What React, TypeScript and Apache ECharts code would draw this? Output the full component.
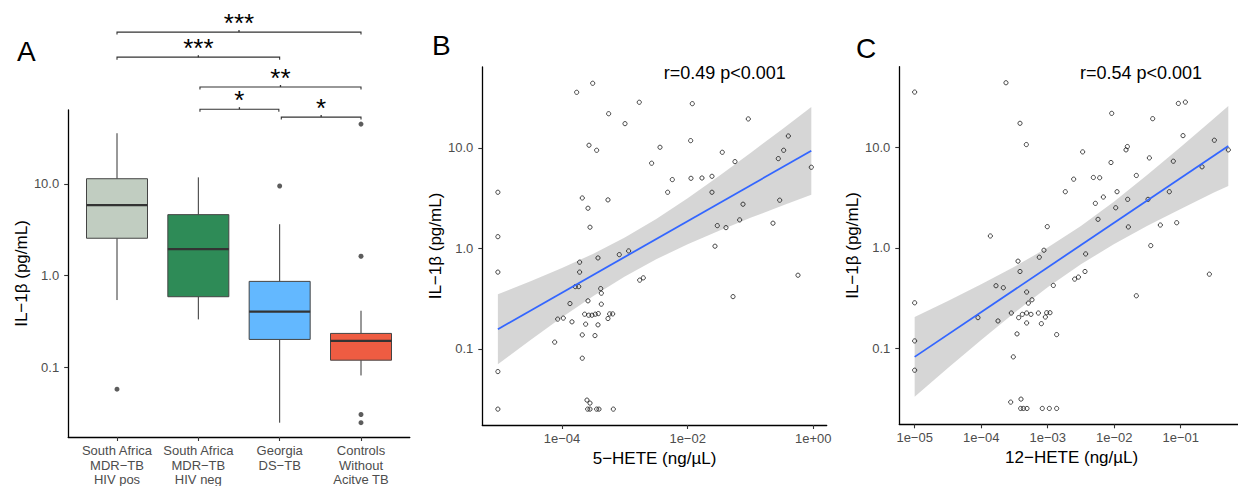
import React, { useEffect, useRef } from "react";
import * as echarts from "echarts";

const FONT = "'Liberation Sans', Arial, Helvetica, sans-serif";

// ---------- Panel A : IL-1β (pg/mL) by group ----------
const groupLabels = [
  "South Africa\nMDR−TB\nHIV pos",
  "South Africa\nMDR−TB\nHIV neg",
  "Georgia\nDS−TB",
  "Controls\nWithout\nAcitve TB",
];
const boxLower = [0.543, 0.334, 0.025, 0.0818];
const boxQ1 = [2.56, 0.59, 0.202, 0.12];
const boxMedian = [5.87, 1.95, 0.405, 0.195];
const boxQ3 = [11.4, 4.63, 0.867, 0.235];
const boxUpper = [35.7, 11.8, 3.64, 0.415];
const boxColors = ["#C1CDC1", "#2E8B57", "#63B8FF", "#EE5C42"];
const outlierGroup = [0, 2, 3, 3, 3, 3];
const outlierValue = [0.058, 9.5, 44.9, 1.63, 0.0307, 0.025];

// significance brackets: from group, to group, height (pg/mL), label
const bracketFrom = [0, 0, 1.02, 1.02, 2.02];
const bracketTo = [3, 2, 3, 1.99, 3];
const bracketHeight = [452, 241, 114, 65.3, 53.5];
const bracketLabel = ["***", "***", "**", "*", "*"];

// ---------- Panel B : 5-HETE vs IL-1β (log10 ng/µL, log10 pg/mL) ----------
const hete5Points: [number, number][] = [
  [-5.02, 0.559], [-5.02, 0.117], [-3.766, 1.554], [-3.511, 1.644], [-3.257, 1.341],
  [-2.997, 1.242], [-2.77, 1.455], [-1.926, 1.441], [-1.035, 1.289], [-3.57, 1.027],
  [-3.448, 0.977], [-2.44, 1.007], [-1.952, 1.073], [-2.573, 0.848], [-2.244, 0.685],
  [-1.947, 0.698], [-1.772, 0.701], [-1.613, 0.718], [-1.449, 0.957], [-1.247, 0.864],
  [-0.557, 0.894], [-0.472, 0.977], [-0.398, 1.119], [-0.032, 0.808], [-3.677, 0.502],
  [-3.586, 0.4], [-3.554, 0.211], [-3.268, 0.483], [-2.318, 0.559], [-1.613, 0.559],
  [-1.119, 0.44], [-0.535, 0.48], [-1.528, 0.227], [-1.39, 0.207], [-1.172, 0.284],
  [-0.642, 0.251], [-1.565, 0.022], [-3.088, -0.062], [-2.939, -0.025], [-3.427, -0.095],
  [-3.719, -0.137], [-5.02, -0.236], [-3.719, -0.236], [-2.763, -0.316], [-2.706, -0.293],
  [-0.244, -0.267], [-3.788, -0.38], [-3.734, -0.38], [-3.384, -0.4], [-3.374, -0.446],
  [-1.278, -0.48], [-3.586, -0.522], [-3.873, -0.549], [-3.374, -0.555], [-3.639, -0.655],
  [-3.575, -0.665], [-3.523, -0.665], [-3.47, -0.655], [-3.422, -0.649], [-3.241, -0.652],
  [-3.193, -0.652], [-3.268, -0.698], [-4.068, -0.704], [-3.979, -0.694], [-3.841, -0.731],
  [-3.623, -0.754], [-3.427, -0.761], [-3.677, -0.861], [-3.475, -0.868], [-4.116, -0.933],
  [-3.677, -1.093], [-5.02, -1.226], [-5.02, -1.6], [-3.602, -1.51], [-3.554, -1.54],
  [-3.591, -1.6], [-3.554, -1.6], [-3.448, -1.6], [-3.411, -1.6], [-3.183, -1.6],
];
const fitB: [number, number][] = [[-5.02, -0.804], [-0.032, 0.972]];
const bandBX = [-5.02, -4.5, -4, -3.5, -3, -2.5, -2, -1.5, -1, -0.5, -0.032];
const bandBLo = [-1.152, -0.911, -0.686, -0.473, -0.279, -0.108, 0.042, 0.177, 0.304, 0.425, 0.535];
const bandBHi = [-0.456, -0.327, -0.196, -0.053, 0.109, 0.294, 0.5, 0.721, 0.95, 1.185, 1.409];

// ---------- Panel C : 12-HETE vs IL-1β ----------
const hete12Points: [number, number][] = [
  [-5.0, 1.553], [-3.627, 1.646], [-3.416, 1.242], [-3.321, 1.03], [-2.037, 1.341],
  [-1.035, 1.44], [-0.93, 1.453], [-1.421, 1.288], [-0.965, 1.119], [-0.494, 1.073],
  [-0.284, 0.977], [-2.474, 0.957], [-1.822, 0.977], [-1.802, 1.01], [-1.471, 0.897],
  [-1.111, 0.864], [-0.679, 0.808], [-2.048, 0.851], [-2.609, 0.685], [-2.313, 0.702],
  [-2.218, 0.699], [-1.667, 0.722], [-2.735, 0.56], [-1.957, 0.56], [-1.171, 0.56],
  [-2.163, 0.507], [-2.283, 0.444], [-1.797, 0.484], [-1.491, 0.484], [-1.977, 0.4],
  [-2.243, 0.285], [-1.787, 0.209], [-1.306, 0.228], [-1.06, 0.251], [-3.006, 0.212],
  [-3.862, 0.119], [-1.45, 0.023], [-3.056, -0.023], [-2.429, -0.06], [-3.126, -0.093],
  [-3.446, -0.132], [-3.416, -0.235], [-2.439, -0.235], [-2.594, -0.311], [-2.538, -0.291],
  [-0.569, -0.262], [-3.777, -0.377], [-3.667, -0.397], [-2.915, -0.374], [-1.667, -0.477],
  [-3.316, -0.44], [-5.0, -0.547], [-3.236, -0.517], [-3.291, -0.55], [-3.547, -0.649],
  [-3.381, -0.662], [-3.316, -0.649], [-3.251, -0.662], [-3.14, -0.649], [-3.015, -0.646],
  [-2.965, -0.646], [-3.436, -0.695], [-3.035, -0.689], [-4.048, -0.695], [-3.747, -0.728],
  [-3.316, -0.748], [-3.095, -0.755], [-3.461, -0.857], [-2.865, -0.864], [-5.0, -0.927],
  [-3.517, -1.086], [-5.0, -1.219], [-3.556, -1.537], [-3.401, -1.507], [-3.406, -1.6],
  [-3.366, -1.6], [-3.311, -1.6], [-3.081, -1.6], [-2.975, -1.6], [-2.865, -1.6],
];
const fitC: [number, number][] = [[-5.0, -1.086], [-0.284, 1.016]];
const bandCX = [-5, -4.5, -4, -3.5, -3, -2.5, -2, -1.5, -1, -0.5, -0.284];
const bandCLo = [-1.484, -1.197, -0.917, -0.646, -0.391, -0.163, 0.039, 0.22, 0.389, 0.551, 0.618];
const bandCHi = [-0.688, -0.529, -0.363, -0.188, 0.003, 0.219, 0.463, 0.728, 1.005, 1.289, 1.414];

// ---------- axis ticks ----------
const yTickValues = [-1, 0, 1];
const yTickLabels = ["0.1", "1.0", "10.0"];
const xTickValuesB = [-4, -2, 0];
const xTickLabelsB = ["1e−04", "1e−02", "1e+00"];
const xTickValuesC = [-5, -4, -3, -2, -1];
const xTickLabelsC = ["1e−05", "1e−04", "1e−03", "1e−02", "1e−01"];
const corrTexts = ["r=0.49 p<0.001", "r=0.54 p<0.001"];

const Y_MIN = -1.758;
const Y_MAX = 1.806;

const tickLabelStyle = { fontFamily: FONT, fontSize: 13, color: "#4D4D4D" };
const axisLine = { show: true, onZero: false, lineStyle: { color: "#000", width: 1.3 } };

function yAxisCfg(gridIndex: number) {
  return {
    type: "value",
    gridIndex,
    min: Y_MIN,
    max: Y_MAX,
    name: "IL−1β (pg/mL)",
    nameLocation: "middle",
    nameGap: 38,
    nameRotate: 90,
    nameTextStyle: { fontFamily: FONT, fontSize: 17, color: "#000" },
    axisLine,
    axisTick: { show: true, length: 4, customValues: yTickValues, lineStyle: { color: "#333", width: 1.1 } },
    axisLabel: {
      ...tickLabelStyle,
      margin: 9,
      customValues: yTickValues,
      formatter: (v: number) => yTickLabels[yTickValues.indexOf(Math.round(v))] ?? "",
    },
    splitLine: { show: false },
  };
}

function xAxisCfg(gridIndex: number, min: number, max: number, vals: number[], labels: string[], name: string) {
  return {
    type: "value",
    gridIndex,
    min,
    max,
    name,
    nameLocation: "middle",
    nameGap: 23,
    nameTextStyle: { fontFamily: FONT, fontSize: 17, color: "#000" },
    axisLine,
    axisTick: { show: true, length: 4, customValues: vals, lineStyle: { color: "#333", width: 1.1 } },
    axisLabel: {
      ...tickLabelStyle,
      margin: 7,
      customValues: vals,
      formatter: (v: number) => labels[vals.indexOf(Math.round(v))] ?? "",
    },
    splitLine: { show: false },
  };
}

function bandSeries(axis: number, xs: number[], lo: number[], hi: number[]) {
  return {
    type: "custom",
    xAxisIndex: axis,
    yAxisIndex: axis,
    silent: true,
    clip: true,
    data: [[xs[0], lo[0]]],
    renderItem: (_p: any, api: any) => {
      const pts: number[][] = [];
      for (let i = 0; i < xs.length; i++) pts.push(api.coord([xs[i], hi[i]]));
      for (let i = xs.length - 1; i >= 0; i--) pts.push(api.coord([xs[i], lo[i]]));
      return { type: "polygon", shape: { points: pts }, style: { fill: "rgba(153,153,153,0.4)" } };
    },
  };
}

function scatterSeries(axis: number, pts: [number, number][]) {
  return {
    type: "scatter",
    xAxisIndex: axis,
    yAxisIndex: axis,
    data: pts,
    symbol: "circle",
    symbolSize: 4.2,
    itemStyle: { color: "rgba(255,255,255,0)", borderColor: "#000", borderWidth: 0.9 },
    silent: true,
  };
}

function fitSeries(axis: number, pts: [number, number][]) {
  return {
    type: "line",
    xAxisIndex: axis,
    yAxisIndex: axis,
    data: pts,
    symbol: "none",
    lineStyle: { color: "#3366FF", width: 1.8 },
    silent: true,
  };
}

const log = Math.log10;

const boxData = groupLabels.map((_, i) => [
  i,
  log(boxLower[i]),
  log(boxQ1[i]),
  log(boxMedian[i]),
  log(boxQ3[i]),
  log(boxUpper[i]),
]);

const option: any = {
  animation: false,
  backgroundColor: "#fff",
  grid: [
    { left: 68.2, top: 110, width: 341.6, height: 327, outerBoundsMode: "none" },
    { left: 482.3, top: 67, width: 344.4, height: 358, outerBoundsMode: "none" },
    { left: 899.3, top: 66.7, width: 344.7, height: 357.6, outerBoundsMode: "none" },
  ],
  xAxis: [
    {
      type: "value",
      gridIndex: 0,
      min: -0.6,
      max: 3.6,
      axisLine,
      axisTick: { show: true, length: 4, customValues: [0, 1, 2, 3], lineStyle: { color: "#333", width: 1.1 } },
      axisLabel: {
        ...tickLabelStyle,
        lineHeight: 14.7,
        margin: 6,
        customValues: [0, 1, 2, 3],
        formatter: (v: number) => groupLabels[Math.round(v)] ?? "",
      },
      splitLine: { show: false },
    },
    xAxisCfg(1, -5.268, 0.213, xTickValuesB, xTickLabelsB, "5−HETE (ng/µL)"),
    xAxisCfg(2, -5.231, -0.048, xTickValuesC, xTickLabelsC, "12−HETE (ng/µL)"),
  ],
  yAxis: [yAxisCfg(0), yAxisCfg(1), yAxisCfg(2)],
  series: [
    {
      type: "custom",
      xAxisIndex: 0,
      yAxisIndex: 0,
      data: boxData,
      silent: true,
      renderItem: (params: any, api: any) => {
        const x = api.value(0);
        const lo = api.value(1), q1 = api.value(2), med = api.value(3), q3 = api.value(4), hi = api.value(5);
        const w = 0.375;
        const tl = api.coord([x - w, q3]);
        const br = api.coord([x + w, q1]);
        const pHi = api.coord([x, hi]);
        const pQ3 = api.coord([x, q3]);
        const pQ1 = api.coord([x, q1]);
        const pLo = api.coord([x, lo]);
        const m1 = api.coord([x - w, med]);
        const m2 = api.coord([x + w, med]);
        const st = { stroke: "#333", lineWidth: 1 };
        return {
          type: "group",
          children: [
            { type: "line", shape: { x1: pHi[0], y1: pHi[1], x2: pQ3[0], y2: pQ3[1] }, style: st },
            { type: "line", shape: { x1: pQ1[0], y1: pQ1[1], x2: pLo[0], y2: pLo[1] }, style: st },
            {
              type: "rect",
              shape: { x: tl[0], y: tl[1], width: br[0] - tl[0], height: br[1] - tl[1] },
              style: { fill: boxColors[params.dataIndex], stroke: "#444", lineWidth: 1 },
            },
            { type: "line", shape: { x1: m1[0], y1: m1[1], x2: m2[0], y2: m2[1] }, style: { stroke: "#333", lineWidth: 2.2 } },
          ],
        };
      },
    },
    {
      type: "scatter",
      xAxisIndex: 0,
      yAxisIndex: 0,
      data: outlierGroup.map((g, i) => [g, log(outlierValue[i])]),
      symbolSize: 5,
      itemStyle: { color: "#333" },
      silent: true,
    },
    {
      type: "custom",
      xAxisIndex: 0,
      yAxisIndex: 0,
      clip: false,
      silent: true,
      data: bracketFrom.map((f, i) => [f, bracketTo[i], log(bracketHeight[i])]),
      renderItem: (params: any, api: any) => {
        const p1 = api.coord([api.value(0), api.value(2)]);
        const p2 = api.coord([api.value(1), api.value(2)]);
        const cx = (p1[0] + p2[0]) / 2;
        const y = p1[1];
        return {
          type: "group",
          children: [
            {
              type: "polyline",
              shape: { points: [[p1[0], y + 2.5], [p1[0], y], [p2[0], y], [p2[0], y + 2.5]] },
              style: { stroke: "#333", lineWidth: 1.1, fill: "none" },
            },
            { type: "line", shape: { x1: cx, y1: y, x2: cx, y2: y - 2 }, style: { stroke: "#333", lineWidth: 1.3 } },
            {
              type: "text",
              x: cx,
              y: y - 9,
              style: {
                text: bracketLabel[params.dataIndex],
                fontFamily: FONT,
                fontSize: 26,
                fill: "#000",
                align: "center",
                verticalAlign: "middle",
                textAlign: "center",
                textVerticalAlign: "middle",
              },
            },
          ],
        };
      },
    },
    scatterSeries(1, hete5Points),
    bandSeries(1, bandBX, bandBLo, bandBHi),
    fitSeries(1, fitB),
    scatterSeries(2, hete12Points),
    bandSeries(2, bandCX, bandCLo, bandCHi),
    fitSeries(2, fitC),
  ],
  graphic: [
    { type: "text", left: 17, top: 37, style: { text: "A", fontFamily: FONT, fontSize: 28, fill: "#000" } },
    { type: "text", left: 432, top: 31, style: { text: "B", fontFamily: FONT, fontSize: 28, fill: "#000" } },
    { type: "text", left: 856, top: 34, style: { text: "C", fontFamily: FONT, fontSize: 28, fill: "#000" } },
    {
      type: "text",
      x: 724.7,
      y: 73,
      style: { text: corrTexts[0], fontFamily: FONT, fontSize: 18, fill: "#000", align: "center", verticalAlign: "middle", textAlign: "center", textVerticalAlign: "middle" },
    },
    {
      type: "text",
      x: 1141,
      y: 73,
      style: { text: corrTexts[1], fontFamily: FONT, fontSize: 18, fill: "#000", align: "center", verticalAlign: "middle", textAlign: "center", textVerticalAlign: "middle" },
    },
  ],
};

export default function App() {
  const ref = useRef<HTMLDivElement>(null);
  useEffect(() => {
    if (!ref.current) return;
    const chart = echarts.init(ref.current, null, { renderer: "svg" });
    chart.setOption(option);
    return () => chart.dispose();
  }, []);
  return (
    <div
      ref={ref}
      style={{ position: "absolute", left: 0, top: 0, width: 1238, height: 486, background: "#fff" }}
    />
  );
}
